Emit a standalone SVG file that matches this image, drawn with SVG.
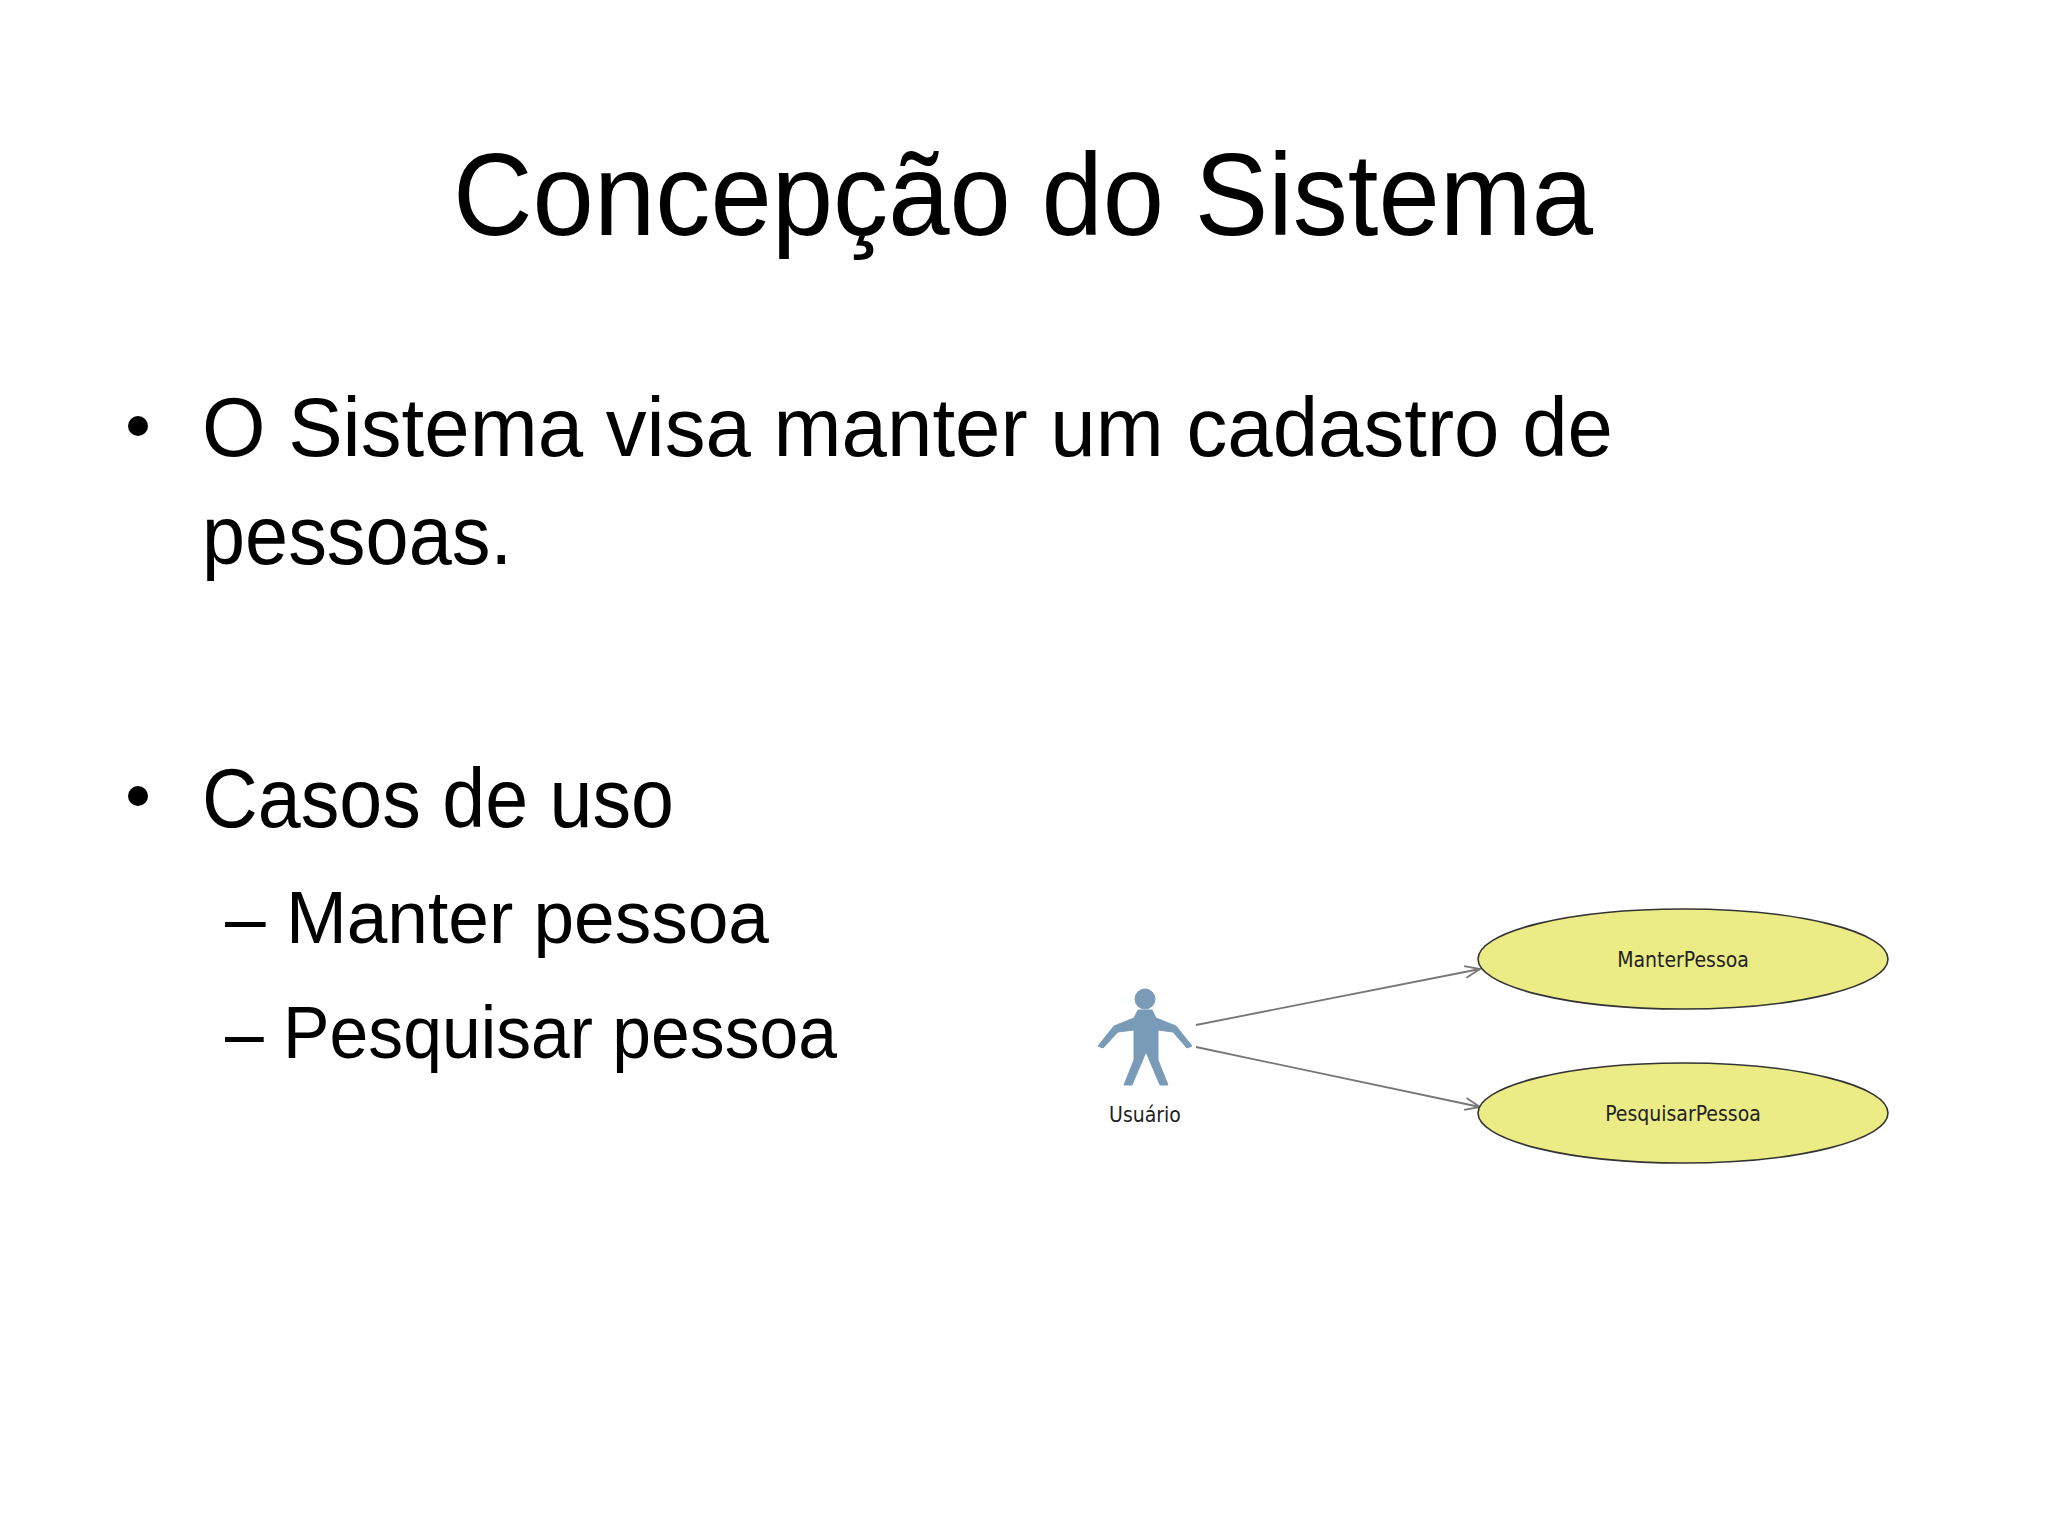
<svg xmlns="http://www.w3.org/2000/svg" width="2048" height="1536" viewBox="0 0 2048 1536">
<style>
.t{font-family:"Liberation Sans","Open Sans",sans-serif;fill:#000}
.uc{fill:#ecec86;stroke:#333;stroke-width:1.6}
.ul{font-family:"DejaVu Sans Condensed","DejaVu Sans",sans-serif;font-size:21px;fill:#222;text-anchor:middle}
.c{stroke:#777;stroke-width:1.8;fill:none;marker-end:url(#a)}
</style>
<defs><marker id="a" markerWidth="18" markerHeight="14" refX="16" refY="7" orient="auto" markerUnits="userSpaceOnUse"><path d="M1,1 L16,7 L1,13" fill="none" stroke="#777" stroke-width="1.8"/></marker></defs>
<rect width="2048" height="1536" fill="#fff"/>
<text class="t" x="1023" y="235" font-size="116" text-anchor="middle" textLength="1140" lengthAdjust="spacingAndGlyphs">Concepção do Sistema</text>
<circle cx="138" cy="426" r="10" fill="#000"/>
<text class="t" x="202" y="456" font-size="84" textLength="1411" lengthAdjust="spacingAndGlyphs">O Sistema visa manter um cadastro de</text>
<text class="t" x="202" y="564" font-size="84" textLength="310" lengthAdjust="spacingAndGlyphs">pessoas.</text>
<circle cx="138" cy="796" r="10" fill="#000"/>
<text class="t" x="202" y="827" font-size="84" textLength="472" lengthAdjust="spacingAndGlyphs">Casos de uso</text>
<text class="t" x="225" y="943" font-size="74" textLength="544" lengthAdjust="spacingAndGlyphs">– Manter pessoa</text>
<text class="t" x="225" y="1058" font-size="74" textLength="612" lengthAdjust="spacingAndGlyphs">– Pesquisar pessoa</text>
<g id="connectors">
<path class="c" d="M1196,1025 L1480,969"/>
<path class="c" d="M1196,1047 L1480,1107"/>
</g>
<g id="actor">
<g fill="#7a9bb8" stroke="#7a9bb8">
<circle cx="1145" cy="999" r="10"/>
<path d="M1138,1010 L1152,1010 L1156,1018 L1176,1026 L1192,1046 L1187,1048 L1173,1032 L1158,1030 L1158,1060 L1168,1085 L1160,1085 L1146,1052 L1132,1085 L1124,1085 L1134,1060 L1134,1030 L1118,1032 L1103,1048 L1098,1046 L1114,1026 L1134,1018 Z"/>
</g>
<text class="ul" x="1145" y="1122">Usuário</text>
</g>
<g id="uc1"><ellipse class="uc" cx="1683" cy="959" rx="205" ry="50"/><text class="ul" x="1683" y="967">ManterPessoa</text></g>
<g id="uc2"><ellipse class="uc" cx="1683" cy="1113" rx="205" ry="50"/><text class="ul" x="1683" y="1121">PesquisarPessoa</text></g>
</svg>
